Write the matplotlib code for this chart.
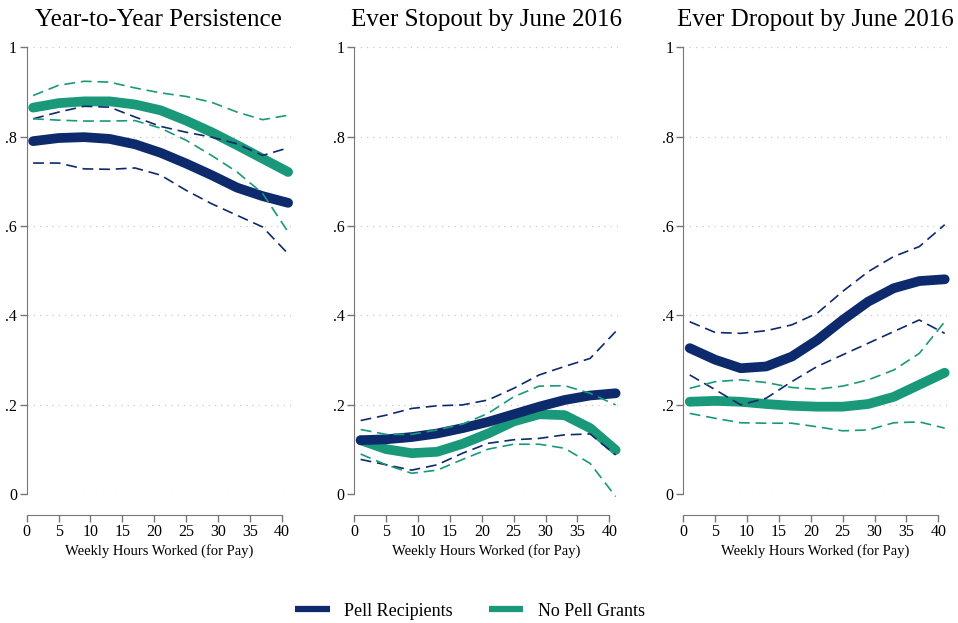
"""Predicted outcomes by weekly hours worked, Pell recipients vs. non-recipients."""

import matplotlib.pyplot as plt
from matplotlib.lines import Line2D

plt.rcParams["font.family"] = ["Liberation Serif", "DejaVu Serif"]

NAVY = "#0d2a6c"
GREEN = "#1a987a"

hours = [1, 5, 9, 13, 17, 21, 25, 29, 33, 37, 41]

titles = [
    "Year-to-Year Persistence",
    "Ever Stopout by June 2016",
    "Ever Dropout by June 2016",
]

# Year-to-year persistence
persist_pell = [.790, .797, .799, .795, .783, .764, .740, .714, .686, .667, .652]
persist_pell_hi = [.840, .855, .868, .866, .844, .823, .810, .799, .784, .758, .775]
persist_pell_lo = [.741, .741, .728, .727, .730, .714, .680, .650, .624, .598, .538]
persist_nopell = [.865, .875, .879, .879, .872, .859, .836, .810, .781, .751, .721]
persist_nopell_hi = [.892, .915, .924, .922, .909, .898, .890, .877, .855, .838, .848]
persist_nopell_lo = [.840, .837, .835, .835, .836, .819, .792, .758, .721, .673, .587]

# Ever stopped out
stop_pell = [.121, .123, .128, .136, .148, .162, .179, .196, .211, .221, .226]
stop_pell_hi = [.165, .177, .192, .198, .200, .211, .237, .267, .286, .304, .364]
stop_pell_lo = [.078, .066, .054, .066, .092, .114, .122, .125, .133, .135, .088]
stop_nopell = [.121, .101, .092, .095, .113, .136, .163, .179, .177, .148, .099]
stop_nopell_hi = [.145, .134, .134, .144, .157, .181, .218, .242, .243, .226, .200]
stop_nopell_lo = [.090, .066, .047, .054, .078, .101, .112, .112, .103, .069, -.005]

# Ever dropped out
drop_pell = [.327, .301, .282, .286, .308, .345, .390, .431, .461, .477, .481]
drop_pell_hi = [.386, .362, .360, .366, .379, .405, .454, .498, .532, .554, .603]
drop_pell_lo = [.267, .234, .200, .215, .252, .286, .312, .338, .364, .390, .360]
drop_nopell = [.207, .209, .207, .202, .198, .196, .196, .202, .218, .245, .272]
drop_nopell_hi = [.237, .252, .256, .250, .239, .235, .242, .256, .278, .315, .386]
drop_nopell_lo = [.181, .170, .160, .159, .159, .151, .142, .144, .160, .162, .148]

panels = [
    (persist_pell, persist_pell_hi, persist_pell_lo,
     persist_nopell, persist_nopell_hi, persist_nopell_lo),
    (stop_pell, stop_pell_hi, stop_pell_lo,
     stop_nopell, stop_nopell_hi, stop_nopell_lo),
    (drop_pell, drop_pell_hi, drop_pell_lo,
     drop_nopell, drop_nopell_hi, drop_nopell_lo),
]

y_ticks = [0, .2, .4, .6, .8, 1]
y_labels = ["0", ".2", ".4", ".6", ".8", "1"]
x_ticks = [0, 5, 10, 15, 20, 25, 30, 35, 40]

fig = plt.figure(figsize=(9.58, 6.23), dpi=100)
lefts = [0.0279, 0.3698, 0.7133]

for left, title, series in zip(lefts, titles, panels):
    ax = fig.add_axes([left, 0.2066, 0.2755, 0.7175])
    pell, pell_hi, pell_lo, nopell, nopell_hi, nopell_lo = series

    for y in y_ticks:
        ax.axhline(y, color="#c8c8c8", lw=0.9, ls=(0, (1, 4)), zorder=0)

    ax.plot(hours, nopell, color=GREEN, lw=7, solid_capstyle="round",
            solid_joinstyle="round", clip_on=False, zorder=2)
    ax.plot(hours, pell, color=NAVY, lw=7, solid_capstyle="round",
            solid_joinstyle="round", clip_on=False, zorder=3)
    for vals, col in [(pell_hi, NAVY), (pell_lo, NAVY),
                      (nopell_hi, GREEN), (nopell_lo, GREEN)]:
        ax.plot(hours, vals, color=col, lw=1.2, ls=(0, (6.5, 3.5)),
                clip_on=False, zorder=4)

    ax.set_xlim(0, 41.4)
    ax.set_ylim(0, 1)
    ax.set_xticks(x_ticks)
    ax.set_yticks(y_ticks)
    ax.set_yticklabels(y_labels)
    ax.tick_params(colors="#777777", labelcolor="black", labelsize=11.5,
                   length=5, width=1)
    ax.tick_params(axis="y", pad=2)
    ax.tick_params(axis="x", pad=1.5)
    for side in ["top", "right"]:
        ax.spines[side].set_visible(False)
    for side in ["left", "bottom"]:
        ax.spines[side].set_color("#777777")
    ax.spines["bottom"].set_position(("outward", 15))
    ax.spines["bottom"].set_bounds(0, 40)
    ax.set_xlabel("Weekly Hours Worked (for Pay)", fontsize=10.5, labelpad=3)
    ax.set_title(title, fontsize=18, pad=15)

handles = [
    Line2D([], [], color=NAVY, lw=4.5, solid_capstyle="butt"),
    Line2D([], [], color=GREEN, lw=4.5, solid_capstyle="butt"),
]
fig.legend(handles, ["Pell Recipients", "No Pell Grants"], loc="center",
           bbox_to_anchor=(470 / 958, 1 - 611 / 623), ncol=2, frameon=False,
           fontsize=13, handlelength=1.9, handletextpad=0.8,
           columnspacing=2.0)

fig.savefig("out.png", dpi=100)
